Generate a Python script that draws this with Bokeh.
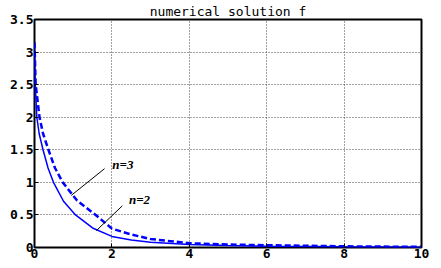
from bokeh.plotting import figure
from bokeh.models import Range1d, FixedTicker
from bokeh.core.properties import value
from bokeh.embed import file_html
from bokeh.resources import INLINE

# data
x2 = [0.0, 0.02, 0.06, 0.12, 0.22, 0.35, 0.49, 0.75, 1.06, 1.5, 2.0, 2.5, 3.0, 4.0, 5.0, 6.0, 7.0, 8.0, 9.0, 10.0]
f2 = [3.1, 2.5, 2.0, 1.75, 1.5, 1.22, 1.0, 0.71, 0.5, 0.3, 0.17, 0.115, 0.08, 0.045, 0.03, 0.02, 0.015, 0.01, 0.007, 0.005]
x3 = [0.0, 0.03, 0.13, 0.22, 0.36, 0.53, 0.73, 1.1, 1.58, 2.0, 2.5, 3.0, 4.0, 5.0, 6.0, 7.0, 8.0, 9.0, 10.0]
f3 = [3.15, 2.5, 2.0, 1.75, 1.5, 1.22, 1.0, 0.72, 0.5, 0.29, 0.2, 0.13, 0.066, 0.046, 0.035, 0.027, 0.018, 0.014, 0.01]

xticks = [0, 2, 4, 6, 8, 10]
yticks = [0, 0.5, 1, 1.5, 2, 2.5, 3, 3.5]
ytick_labels = {0: "0", 0.5: "0.5", 1: "1", 1.5: "1.5", 2: "2", 2.5: "2.5", 3: "3", 3.5: "3.5"}

title_text = "numerical solution f"

ann3_x = [0.95, 1.81]
ann3_y = [0.80, 1.21]
ann2_x = [1.6, 2.27]
ann2_y = [0.26, 0.64]
lab_x = [2.01, 2.44]
lab_y = [1.28, 0.73]
lab_t = ["n=3", "n=2"]

p = figure(width=441, height=268, output_backend="svg", toolbar_location=None,
           x_range=Range1d(0, 10), y_range=Range1d(0, 3.5),
           title=title_text,
           min_border_left=34, min_border_right=20, min_border_top=18, min_border_bottom=21)

p.title.align = "center"
p.title.text_font = "DejaVu Sans Mono"
p.title.text_font_size = "13px"
p.title.text_font_style = "normal"
p.title.text_color = "black"
p.title.standoff = 2
p.title.offset = 0

p.outline_line_color = "black"
p.outline_line_width = 2
p.outline_line_alpha = 1

for ax in p.axis:
    ax.axis_line_color = None
    ax.major_tick_in = 4
    ax.major_tick_out = 0
    ax.minor_tick_line_color = None
    ax.major_tick_line_color = "black"
    ax.major_tick_line_width = 1
    ax.major_label_text_font = "DejaVu Sans Mono"
    ax.major_label_text_font_style = "bold"
    ax.major_label_text_font_size = "13px"
    ax.major_label_text_color = "black"
    ax.major_label_standoff = 1

p.xaxis.ticker = FixedTicker(ticks=xticks)
p.yaxis.ticker = FixedTicker(ticks=yticks)
p.yaxis.major_label_overrides = ytick_labels

p.xgrid.ticker = FixedTicker(ticks=xticks)
p.ygrid.ticker = FixedTicker(ticks=yticks)
p.grid.grid_line_color = "#444444"
p.grid.grid_line_dash = "1 2"
p.grid.grid_line_width = 1

p.line(x2, f2, line_color="#0000ff", line_width=1.5)
p.line(x3, f3, line_color="#0000ff", line_width=2.5, line_dash="6 3")

p.line(ann3_x, ann3_y, line_color="black", line_width=1)
p.line(ann2_x, ann2_y, line_color="black", line_width=1)

p.text(lab_x, lab_y, text=lab_t, text_font=value("Liberation Serif"),
       text_font_style="bold italic", text_font_size="13px",
       text_baseline="middle", text_align="left", text_color="black")

open("out.html", "w").write(file_html(p, INLINE))
